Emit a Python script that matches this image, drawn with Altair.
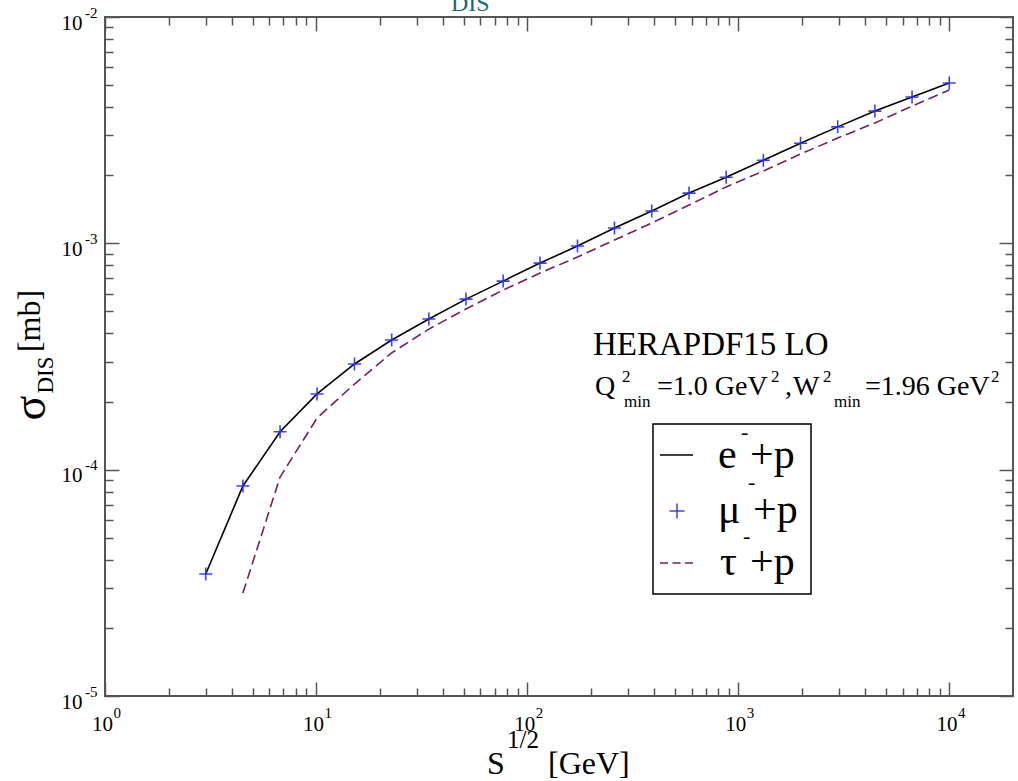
import altair as alt
import pandas as pd

# ---------------- data ----------------
sqrt_s = [3, 4.5, 6.75, 10.1, 15.2, 22.8, 34.2, 51.3, 76.9, 115, 173, 259, 389,
          584, 876, 1314, 1971, 2956, 4434, 6651, 9976]
sigma_e = [3.46e-5, 8.47e-5, 1.47e-4, 2.16e-4, 2.93e-4, 3.74e-4, 4.63e-4, 5.67e-4,
           6.81e-4, 8.18e-4, 9.73e-4, 1.169e-3, 1.39e-3, 1.667e-3, 1.96e-3, 2.33e-3,
           2.77e-3, 3.27e-3, 3.84e-3, 4.43e-3, 5.11e-3]
sigma_mu = [3.46e-5, 8.47e-5, 1.47e-4, 2.16e-4, 2.93e-4, 3.74e-4, 4.63e-4, 5.67e-4,
            6.81e-4, 8.18e-4, 9.73e-4, 1.169e-3, 1.39e-3, 1.667e-3, 1.96e-3, 2.33e-3,
            2.77e-3, 3.27e-3, 3.84e-3, 4.43e-3, 5.11e-3]
sqrt_s_tau = [4.5, 6.75, 10.1, 15.2, 22.8, 34.2, 51.3, 76.9, 115, 173, 259, 389,
              584, 876, 1314, 1971, 2956, 4434, 6651, 9976]
sigma_tau = [2.85e-5, 9.27e-5, 1.69e-4, 2.39e-4, 3.28e-4, 4.18e-4, 5.13e-4, 6.22e-4,
             7.39e-4, 8.70e-4, 1.034e-3, 1.23e-3, 1.476e-3, 1.774e-3, 2.087e-3,
             2.48e-3, 2.92e-3, 3.40e-3, 4.04e-3, 4.76e-3]

x_decades = [1, 10, 100, 1000, 10000]
x_exponents = ["0", "1", "2", "3", "4"]
y_decades = [1e-5, 1e-4, 1e-3, 1e-2]
y_exponents = ["-5", "-4", "-3", "-2"]
x_minor = [m * d for d in [1, 10, 100, 1000] for m in range(2, 10)]
y_minor = [m * d for d in [1e-5, 1e-4, 1e-3] for m in range(2, 10)]

legend_labels = ["e", "μ", "τ"]

# ---------------- styling ----------------
FONT = "Liberation Serif"
TC = "#555555"
PURPLE = "#7a1e5e"
BLUE = "#2b2bff"
PLUS = "M-1,0L1,0M0,-1L0,1"
W, H = 908, 679

xs = alt.Scale(type="log", domain=[1, 20000], nice=False)
ys = alt.Scale(type="log", domain=[1e-5, 1e-2], nice=False)


def label_expr(vals, labels):
    e = "''"
    for v, l in zip(vals, labels):
        e = f"(abs(datum.value/{v!r} - 1) < 1e-6) ? '{l}' : ({e})"
    return e


def ax(**kw):
    base = dict(title=None, grid=False, domain=False, labelFlush=False,
                labelOverlap=False)
    base.update(kw)
    return alt.Axis(**base)


tick_style = dict(labels=False, tickColor=TC, tickWidth=1.5)

x_lab10 = ax(orient="bottom", values=x_decades, labelExpr="'10'", ticks=False,
             tickSize=0, labelFont=FONT, labelFontSize=21, labelPadding=34,
             labelBaseline="alphabetic", labelOffset=-3, labelColor="black")
x_labexp = ax(orient="bottom", values=x_decades,
              labelExpr=label_expr(x_decades, x_exponents), ticks=False,
              tickSize=0, labelFont=FONT, labelFontSize=15, labelPadding=21,
              labelBaseline="alphabetic", labelAlign="left", labelOffset=8,
              labelColor="black")
y_lab10 = ax(orient="left", values=y_decades, labelExpr="'10'", ticks=False,
             tickSize=0, labelFont=FONT, labelFontSize=21, labelPadding=23,
             labelBaseline="alphabetic", labelAlign="right", labelOffset=12,
             labelColor="black")
y_labexp = ax(orient="left", values=y_decades,
              labelExpr=label_expr(y_decades, y_exponents), ticks=False,
              tickSize=0, labelFont=FONT, labelFontSize=15, labelPadding=8,
              labelBaseline="alphabetic", labelAlign="right", labelOffset=0,
              labelColor="black")

x_major_b = ax(orient="top", offset=-H, values=x_decades, tickSize=14, **tick_style)
x_minor_b = ax(orient="top", offset=-H, values=x_minor, tickSize=8, **tick_style)
x_major_t = ax(orient="bottom", offset=-H, values=x_decades, tickSize=14, **tick_style)
x_minor_t = ax(orient="bottom", offset=-H, values=x_minor, tickSize=8, **tick_style)
y_major_l = ax(orient="right", offset=-W, values=y_decades, tickSize=14, **tick_style)
y_minor_l = ax(orient="right", offset=-W, values=y_minor, tickSize=8, **tick_style)
y_major_r = ax(orient="left", offset=-W, values=y_decades, tickSize=14, **tick_style)
y_minor_r = ax(orient="left", offset=-W, values=y_minor, tickSize=8, **tick_style)

df_e = pd.DataFrame({"s": sqrt_s, "sigma": sigma_e})
df_mu = pd.DataFrame({"s": sqrt_s, "sigma": sigma_mu})
df_tau = pd.DataFrame({"s": sqrt_s_tau, "sigma": sigma_tau})


def enc(chart, xa, ya):
    return chart.encode(x=alt.X("s:Q", scale=xs, axis=xa),
                        y=alt.Y("sigma:Q", scale=ys, axis=ya))


h1 = enc(alt.Chart(df_e).mark_point(opacity=0), x_minor_b, y_minor_l)
h2 = enc(alt.Chart(df_e).mark_point(opacity=0), x_major_t, y_major_r)
h3 = enc(alt.Chart(df_e).mark_point(opacity=0), x_minor_t, y_minor_r)
tau_line = enc(alt.Chart(df_tau).mark_line(color=PURPLE, strokeDash=[10, 5],
                                           strokeWidth=1.6), x_major_b, y_major_l)
e_line = enc(alt.Chart(df_e).mark_line(color="black", strokeWidth=1.6),
             x_lab10, y_lab10)
mu_pts = enc(alt.Chart(df_mu).mark_point(shape=PLUS, size=169, filled=False,
                                         color=BLUE, strokeWidth=1.6, opacity=0.9),
             x_labexp, y_labexp)

one = pd.DataFrame({"k": [0]})


def txt(s, x, y, size, align="left", baseline="alphabetic", color="black", **kw):
    return alt.Chart(one).mark_text(text=s, font=FONT, fontSize=size, align=align,
                                    baseline=baseline, color=color, **kw).encode(
        x=alt.value(x), y=alt.value(y))


texts = [
    # x title
    txt("S", 382, 757, 32),
    txt("1/2", 402, 731, 25),
    txt("[GeV]", 443, 757, 32),
    # y title (rotated)
    txt("σ", -60, 391, 46, align="center", angle=270),
    txt("DIS", -52, 358, 23, align="center", angle=270),
    txt("[mb]", -65, 304, 32, align="center", angle=270),
    # annotation
    txt("HERAPDF15 LO", 488, 338, 33),
    txt("Q", 490, 378, 28),
    txt("2", 517, 365, 17),
    txt("min", 519, 390, 17),
    txt("=1.0 GeV", 552, 378, 28),
    txt("2", 666, 365, 17),
    txt(",", 680, 378, 28),
    txt("W", 688, 378, 28),
    txt("2", 718, 365, 17),
    txt("min", 729, 390, 17),
    txt("=1.96 GeV", 760, 378, 28),
    txt("2", 886, 365, 17),
    # cropped title fragment at the top
    txt("DIS", 346, -6, 24, color="#1b6b6b"),
]

legend_box = alt.Chart(one).mark_rect(fill="white", stroke="black",
                                      strokeWidth=1.5).encode(
    x=alt.value(548), x2=alt.value(706), y=alt.value(407), y2=alt.value(577))
leg_e = alt.Chart(one).mark_rule(color="black", strokeWidth=1.5).encode(
    x=alt.value(555), x2=alt.value(588), y=alt.value(438))
leg_mu = alt.Chart(one).mark_point(shape=PLUS, size=225, filled=False, color=BLUE,
                                   strokeWidth=1.5, opacity=0.9).encode(
    x=alt.value(572), y=alt.value(494))
leg_tau = alt.Chart(one).mark_rule(color=PURPLE, strokeWidth=1.5,
                                   strokeDash=[8, 4.5]).encode(
    x=alt.value(555), x2=alt.value(588), y=alt.value(546))
legend_texts = [
    txt(legend_labels[0], 613, 451, 42),
    txt("-", 636, 422, 22),
    txt("+p", 645, 451, 42),
    txt(legend_labels[1], 613, 506, 42),
    txt("-", 643, 472, 22),
    txt("+p", 648, 506, 42),
    txt(legend_labels[2], 615, 558, 42),
    txt("-", 638, 526, 22),
    txt("+p", 645, 558, 42),
]

chart = alt.layer(
    h1, h2, h3, tau_line, e_line, mu_pts, *texts,
    legend_box, leg_e, leg_mu, leg_tau, *legend_texts
).resolve_axis(x="independent", y="independent").properties(
    width=W, height=H,
    padding={"left": 105, "top": 17, "right": 5, "bottom": 85},
    autosize=alt.AutoSizeParams(type="none"),
    background="white",
).configure_view(stroke=TC, strokeWidth=2)

chart.save("out.html", embed_options={"renderer": "svg", "actions": False})
